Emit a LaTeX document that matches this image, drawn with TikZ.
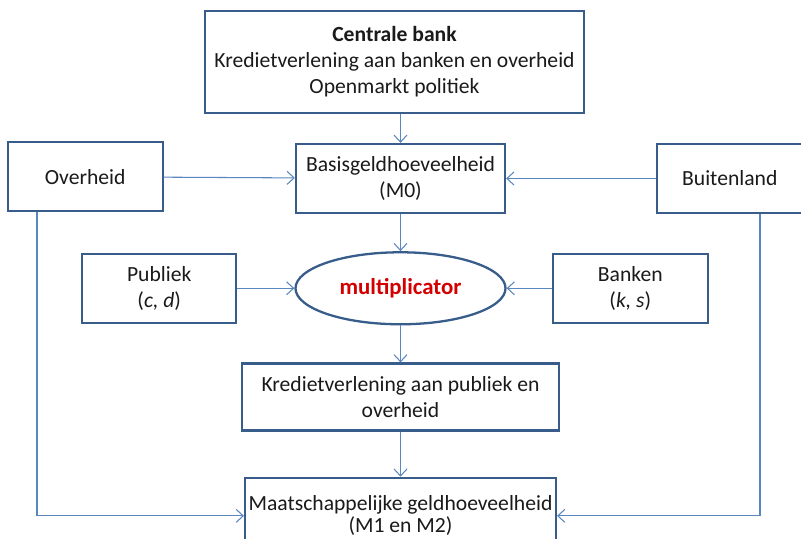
\documentclass[tikz,border=0pt]{standalone}
\usepackage{fontspec}
\setmainfont{Carlito}
\usepackage{xcolor}
\definecolor{bg}{HTML}{FFFFFF}
\definecolor{boxline}{HTML}{385D8A}
\definecolor{arrowline}{HTML}{5B87C0}
\definecolor{textmain}{HTML}{1A1A1A}
\definecolor{multred}{HTML}{D40000}
\usetikzlibrary{positioning,shapes.geometric,arrows.meta}

\begin{document}
\begin{tikzpicture}[
  node distance=0.75cm,
  box/.style={rectangle,minimum width=4.18cm,minimum height=1.38cm,
    draw=boxline,line width=1.3pt,fill=bg,text=textmain,
    font=\fontsize{12.3}{15}\selectfont,align=center,inner sep=2pt},
  sidebox/.style={box,minimum width=3.1cm},
  multnode/.style={ellipse,minimum width=4.2cm,minimum height=1.44cm,
    draw=boxline,line width=1.3pt,fill=bg,text=multred,
    font=\fontsize{13}{15}\selectfont\bfseries,inner sep=0pt},
  arr/.style={-{Straight Barb[length=1.4mm,width=2.6mm]},color=arrowline,line width=0.6pt}
]
  \useasboundingbox[fill=bg] (0,0) rectangle (16.02,-10.78);

  \node[box] (basis) at (8.01,-3.57) {Basisgeldhoeveelheid\\(M0)};
  \node[box,minimum width=7.58cm,minimum height=2.04cm,above=0.58cm of basis,xshift=-0.12cm] (cb)
    {\textbf{Centrale bank}\\Kredietverlening aan banken en overheid\\Openmarkt politiek};
  \node[sidebox,left=2.62cm of basis,yshift=1pt] (overheid) {Overheid};
  \node[sidebox,minimum width=2.9cm,right=3.0cm of basis] (buitenland) {Buitenland};

  \node[multnode,below=0.74cm of basis] (mult) {multiplicator};
  \node[sidebox,minimum width=3.08cm,left=1.14cm of mult] (publiek) {Publiek\\(\textit{c, d})};
  \node[sidebox,right=0.9cm of mult] (banken) {Banken\\(\textit{k, s})};

  \node[box,minimum width=6.34cm,minimum height=1.34cm,below=0.74cm of mult] (kred)
    {Kredietverlening aan publiek en\\overheid};
  \node[box,minimum width=6.16cm,minimum height=1.52cm,below=0.9cm of kred,
    font=\fontsize{12.3}{12.5}\selectfont] (maat)
    {Maatschappelijke geldhoeveelheid\\(M1 en M2)};

  \coordinate (ovdown) at (0.74,-10.3);
  \coordinate (budown) at (15.2,-10.3);

  \draw[arr] (basis.north |- cb.south) -- (basis);
  \draw[arr] (overheid) -- (basis);
  \draw[arr] (buitenland) -- (basis);
  \draw[arr] (basis) -- (mult);
  \draw[arr] (publiek) -- (mult);
  \draw[arr] (banken) -- (mult);
  \draw[arr] (mult) -- (kred);
  \draw[arr] (kred) -- (maat);
  \draw[arr] (overheid.south -| ovdown) |- (maat.west);
  \draw[arr] (buitenland.south -| budown) |- (maat.east);
\end{tikzpicture}
\end{document}
